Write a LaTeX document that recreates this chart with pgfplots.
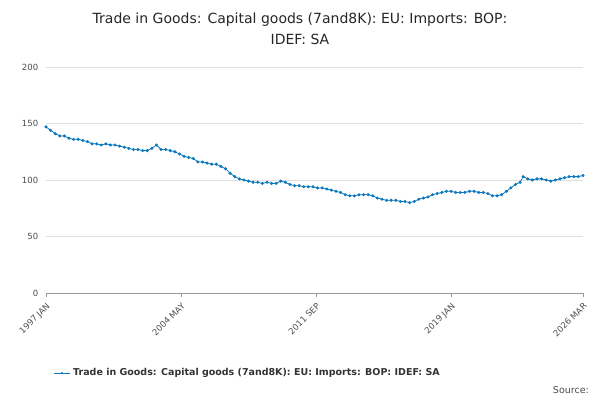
\documentclass[border=0pt]{standalone}
\usepackage{pgfplots}
\pgfplotsset{compat=1.18}
\usepackage{fontspec}
\setmainfont{DejaVu Sans}
\definecolor{ln}{HTML}{0B77BD}
\begin{document}
\begin{tikzpicture}[x=1pt,y=1pt]
\useasboundingbox (0,0) rectangle (600,400);
\begin{axis}[at={(46pt,107pt)},anchor=origin,
  width=537pt,height=226pt,scale only axis,
  xmin=0,xmax=350,ymin=0,ymax=200,
  ytick={0,50,100,150,200},
  xtick={0,88,176,264,350},
  xticklabels={1997 JAN,2004 MAY,2011 SEP,2019 JAN,2026 MAR},
  xticklabel style={rotate=45,anchor=north east,font=\fontsize{8.5}{10}\selectfont,text=black!70},
  yticklabel style={font=\fontsize{8.5}{10}\selectfont,text=black!70},
  /pgf/number format/assume math mode=true,
  ymajorgrids,grid style={black!12},
  axis x line*=bottom, axis y line*=left,
  y axis line style={draw=none},
  x axis line style={draw=black!40,-},
  ytick style={draw=none}, xtick style={draw=black!40},
  tick align=outside,
  ]
\addplot[ln,thick,mark=*,mark size=1.1pt] coordinates {
(0,147)(3,144)(6,141)(9,139)(12,139)(15,137)(18,136)(21,136)(24,135)(27,134)(30,132)(33,132)(36,131)(39,132)(42,131)(45,131)(48,130)(51,129)(54,128)(57,127)(60,127)(63,126)(66,126)(69,128)(72,131)(75,127)(78,127)(81,126)(84,125)(87,123)(90,121)(93,120)(96,119)(99,116)(102,116)(105,115)(108,114)(111,114)(114,112)(117,110)(120,106)(123,103)(126,101)(129,100)(132,99)(135,98)(138,98)(141,97)(144,98)(147,97)(150,97)(153,99)(156,98)(159,96)(162,95)(165,95)(168,94)(171,94)(174,94)(177,93)(180,93)(183,92)(186,91)(189,90)(192,89)(195,87)(198,86)(201,86)(204,87)(207,87)(210,87)(213,86)(216,84)(219,83)(222,82)(225,82)(228,82)(231,81)(234,81)(237,80)(240,81)(243,83)(246,84)(249,85)(252,87)(255,88)(258,89)(261,90)(264,90)(267,89)(270,89)(273,89)(276,90)(279,90)(282,89)(285,89)(288,88)(291,86)(294,86)(297,87)(300,90)(303,93)(306,96)(309,98)(311,103)(314,101)(317,100)(320,101)(323,101)(326,100)(329,99)(332,100)(335,101)(338,102)(341,103)(344,103)(347,103)(350,104)};
\end{axis}
\node[align=center,font=\fontsize{14}{21}\selectfont,text=black!85] at (300,371) {Trade in Goods: Capital goods (7and8K): EU: Imports: BOP:\\IDEF: SA};
\draw[ln,thick] (54,27) -- (70,27); \fill[ln] (62,27) circle (1.2pt);
\node[anchor=west,font=\fontsize{9.5}{11}\selectfont\bfseries,text=black!80,inner sep=0] at (73,27) {Trade in Goods: Capital goods (7and8K): EU: Imports: BOP: IDEF: SA};
\node[anchor=east,font=\fontsize{9.5}{11}\selectfont,text=black!70,inner sep=0] at (589,10) {Source:};
\end{tikzpicture}
\end{document}
